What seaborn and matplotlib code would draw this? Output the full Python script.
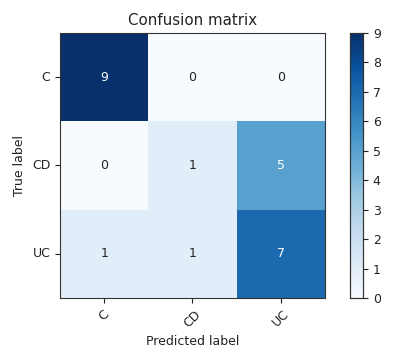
import matplotlib
matplotlib.use("Agg")
import matplotlib.pyplot as plt
import seaborn as sns
import numpy as np
import pandas as pd

classes = ["C", "CD", "UC"]
row_C = [9, 0, 0]
row_CD = [0, 1, 5]
row_UC = [1, 1, 7]

cm = pd.DataFrame([row_C, row_CD, row_UC], index=classes, columns=classes)

fig = plt.figure(figsize=(3.96, 3.57), dpi=100)
ax = fig.add_axes([0.1515, 0.1653, 0.6692, 0.7423])
cax = fig.add_axes([0.884, 0.1653, 0.033, 0.7423])

sns.heatmap(cm, ax=ax, cbar_ax=cax, cmap="Blues", vmin=0, vmax=9,
            annot=False, square=False, linewidths=0)

fs = 9
thresh = cm.values.max() / 2.0
for i in range(cm.shape[0]):
    for j in range(cm.shape[1]):
        v = cm.values[i, j]
        ax.text(j + 0.5, i + 0.5, str(v), ha="center", va="center",
                fontsize=fs, color="white" if v > thresh else "#222222")

for s in ax.spines.values():
    s.set_visible(True)
    s.set_color("#333333")
    s.set_linewidth(0.8)
cax.set_frame_on(True)
for s in cax.spines.values():
    s.set_visible(True)
    s.set_color("#333333")
    s.set_linewidth(0.8)

ax.set_xticks(np.arange(3) + 0.5)
ax.set_xticklabels(classes, rotation=45, ha="center")
ax.set_yticks(np.arange(3) + 0.5)
ax.set_yticklabels(classes, rotation=0)
ax.tick_params(axis="both", which="major", length=3.5, width=0.8,
               labelsize=fs, colors="#222222")
ax.set_title("Confusion matrix", fontsize=10.8, color="#222222")
ax.set_ylabel("True label", fontsize=fs, color="#222222")
ax.set_xlabel("Predicted label", fontsize=fs, color="#222222")

cax.set_yticks(range(0, 10))
cax.tick_params(length=3.5, width=0.8, labelsize=fs, colors="#222222")

fig.savefig("out.png", dpi=100)
